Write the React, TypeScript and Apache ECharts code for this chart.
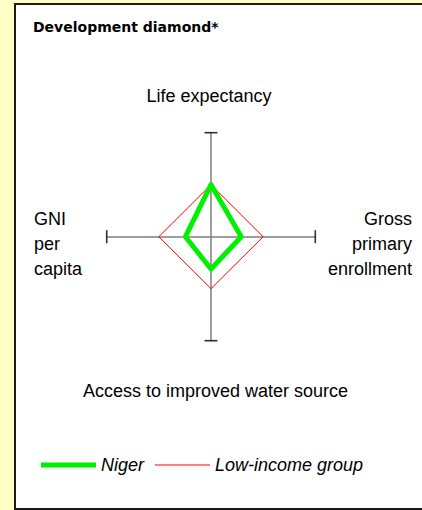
import React, { useEffect, useRef } from "react";
import * as echarts from "echarts";

// Indicators, clockwise from the top of the diamond
const indicators = [
  "Life expectancy",
  "Gross primary enrollment",
  "Access to improved water source",
  "GNI per capita",
];
// Index values (Low-income group = 100)
const nigerValues = [100, 58, 62, 49];
const lowIncomeValues = [100, 100, 100, 100];
const axisMax = 200;
const seriesNames = ["Niger", "Low-income group"];

// direction of each indicator's axis: top, right, bottom, left
const directions = [
  [0, 1],
  [1, 0],
  [0, -1],
  [-1, 0],
];

function diamond(values: number[]) {
  const pts = values.map((v, i) => [directions[i][0] * v, directions[i][1] * v]);
  return [...pts, pts[0]];
}

const FONT = "'Liberation Sans', Arial, sans-serif";

export default function App() {
  const ref = useRef<HTMLDivElement>(null);
  useEffect(() => {
    if (!ref.current) return;
    const chart = echarts.init(ref.current, undefined, { renderer: "svg" });
    const ends = directions.map((d) => [d[0] * axisMax, d[1] * axisMax]);
    const option: any = {
      animation: false,
      backgroundColor: "#FFFFC6",
      title: {
        text: "Development diamond*",
        left: 33,
        top: 20,
        padding: 0,
        textStyle: {
          fontFamily: "'DejaVu Sans', sans-serif",
          fontWeight: "bold",
          fontSize: 14,
          color: "#000",
        },
      },
      grid: { left: 106.7, top: 132.7, width: 208.6, height: 208, containLabel: false },
      xAxis: {
        type: "value",
        min: -axisMax,
        max: axisMax,
        axisLine: { show: true, onZero: true, lineStyle: { color: "#7f7f7f", width: 1.5 } },
        axisTick: { show: false },
        axisLabel: { show: false },
        splitLine: { show: false },
      },
      yAxis: {
        type: "value",
        min: -axisMax,
        max: axisMax,
        axisLine: { show: true, onZero: true, lineStyle: { color: "#7f7f7f", width: 1.5 } },
        axisTick: { show: false },
        axisLabel: { show: false },
        splitLine: { show: false },
      },
      legend: {
        left: 41,
        top: 456,
        padding: 0,
        itemWidth: 55,
        itemHeight: 14,
        itemGap: 11,
        textStyle: { fontFamily: FONT, fontSize: 18, fontStyle: "italic", color: "#000" },
        data: [
          { name: seriesNames[0], icon: "path://M0,0h56v5h-56z" },
          { name: seriesNames[1], icon: "path://M0,0h55v1h-55z" },
        ],
      },
      graphic: [
        {
          type: "rect",
          z: -10,
          shape: { x: 15, y: 4, width: 420, height: 505 },
          style: { fill: "#ffffff", stroke: "#1a1a1a", lineWidth: 2 },
        },
        {
          type: "text",
          x: 209,
          y: 96,
          style: { text: indicators[0], fontFamily: FONT, fontSize: 18, fill: "#000", align: "center", verticalAlign: "middle" },
        },
        {
          type: "text",
          x: 412,
          y: 244,
          style: {
            text: "Gross\nprimary\nenrollment",
            fontFamily: FONT,
            fontSize: 18,
            lineHeight: 25,
            fill: "#000",
            align: "right",
            verticalAlign: "middle",
          },
        },
        {
          type: "text",
          x: 215.5,
          y: 391,
          style: { text: indicators[2], fontFamily: FONT, fontSize: 18, fill: "#000", align: "center", verticalAlign: "middle" },
        },
        {
          type: "text",
          x: 34,
          y: 244,
          style: {
            text: "GNI\nper\ncapita",
            fontFamily: FONT,
            fontSize: 18,
            lineHeight: 25,
            fill: "#000",
            align: "left",
            verticalAlign: "middle",
          },
        },
      ],
      series: [
        {
          name: seriesNames[1],
          type: "line",
          data: diamond(lowIncomeValues),
          symbol: "none",
          z: 3,
          lineStyle: { color: "#ff0000", width: 1 },
          itemStyle: { color: "#ff0000" },
        },
        {
          name: seriesNames[0],
          type: "line",
          data: diamond(nigerValues),
          symbol: "none",
          z: 4,
          lineStyle: { color: "#00f000", width: 5, join: "round", cap: "round" },
          itemStyle: { color: "#00f000" },
        },
        {
          name: "caps-h",
          type: "scatter",
          data: [ends[1], ends[3]],
          symbol: "rect",
          symbolSize: [1.6, 13],
          itemStyle: { color: "#000" },
          silent: true,
          z: 5,
        },
        {
          name: "caps-v",
          type: "scatter",
          data: [ends[0], ends[2]],
          symbol: "rect",
          symbolSize: [13, 1.6],
          itemStyle: { color: "#000" },
          silent: true,
          z: 5,
        },
      ],
    };
    chart.setOption(option);
    return () => chart.dispose();
  }, []);
  return (
    <div
      ref={ref}
      style={{ position: "fixed", left: 0, top: 0, width: 422, height: 510 }}
    />
  );
}
